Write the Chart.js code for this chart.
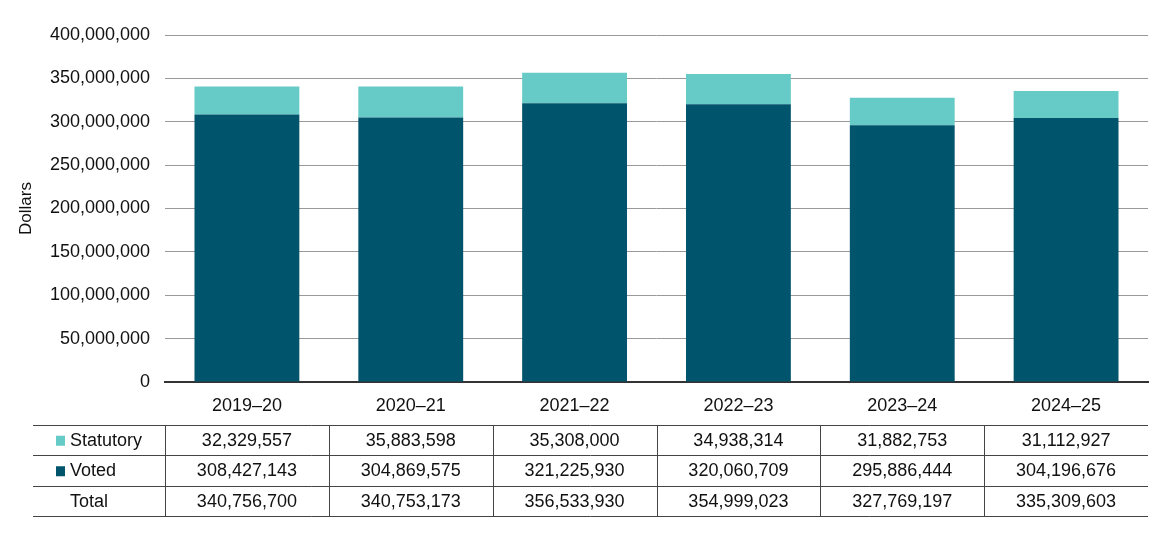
<!DOCTYPE html>
<html>
<head>
<meta charset="utf-8">
<script src="https://cdn.jsdelivr.net/npm/chart.js@4"></script>
<style>
  html, body { margin: 0; padding: 0; background: #fff; }
  #wrap { width: 1170px; height: 535px; }
</style>
</head>
<body>
<div id="wrap"><canvas id="spendChart" width="1170" height="535"></canvas></div>
<script>
// fiscal years, values in dollars
const years = ['2019–20', '2020–21', '2021–22', '2022–23', '2023–24', '2024–25'];
const statutory = [32329557, 35883598, 35308000, 34938314, 31882753, 31112927];
const voted = [308427143, 304869575, 321225930, 320060709, 295886444, 304196676];
const totals = [340756700, 340753173, 356533930, 354999023, 327769197, 335309603];
const yTicks = [0, 50000000, 100000000, 150000000, 200000000, 250000000, 300000000, 350000000, 400000000];

const FONT = '"Liberation Sans Narrow", "Arial Narrow", "Liberation Sans", sans-serif';
const TEAL = '#66cbc7';
const DARK = '#00546c';

const fmt = (n) => n.toLocaleString('en-US');

// data table under the x axis, columns follow the category scale
const tablePlugin = {
  id: 'dataTable',
  afterDraw(chart) {
    const ctx = chart.ctx;
    const x = chart.scales.x;
    const area = chart.chartArea;
    const step = x.getPixelForValue(1) - x.getPixelForValue(0);
    const rowTop = 424.5, rowH = 30.5, tableLeft = 33;
    const rows = [
      { label: 'Statutory', color: TEAL, vals: statutory },
      { label: 'Voted', color: DARK, vals: voted },
      { label: 'Total', color: null, vals: totals }
    ];

    ctx.save();
    ctx.strokeStyle = '#444';
    ctx.lineWidth = 1;
    // horizontal rules
    for (let i = 0; i <= rows.length; i++) {
      const y = Math.round(rowTop + i * rowH) + 0.5;
      ctx.beginPath();
      ctx.moveTo(tableLeft, y);
      ctx.lineTo(area.right, y);
      ctx.stroke();
    }
    // vertical rules between columns
    for (let i = 0; i < years.length; i++) {
      const xx = Math.round(x.getPixelForValue(i) - step / 2) + 0.5;
      ctx.beginPath();
      ctx.moveTo(xx, Math.round(rowTop) + 0.5);
      ctx.lineTo(xx, Math.round(rowTop + rows.length * rowH) + 0.5);
      ctx.stroke();
    }

    ctx.font = '18px ' + FONT;
    ctx.fillStyle = '#111';
    ctx.textBaseline = 'middle';
    rows.forEach((r, ri) => {
      const cy = rowTop + ri * rowH + rowH / 2 + 1;
      if (r.color) {
        ctx.fillStyle = r.color;
        ctx.fillRect(56, cy - 5, 9, 10);
      }
      ctx.fillStyle = '#111';
      ctx.textAlign = 'left';
      ctx.fillText(r.label, 70, cy);
      ctx.textAlign = 'center';
      r.vals.forEach((v, ci) => {
        ctx.fillText(fmt(v), x.getPixelForValue(ci), cy);
      });
    });
    ctx.restore();
  }
};

new Chart(document.getElementById('spendChart'), {
  type: 'bar',
  data: {
    labels: years,
    datasets: [
      { label: 'Voted', data: voted, backgroundColor: DARK },
      { label: 'Statutory', data: statutory, backgroundColor: TEAL }
    ]
  },
  options: {
    responsive: false,
    animation: false,
    devicePixelRatio: 1,
    layout: { padding: { left: 0, right: 22, top: 35, bottom: 0 } },
    datasets: { bar: { categoryPercentage: 1, barPercentage: 0.64 } },
    plugins: {
      legend: { display: false },
      tooltip: { enabled: false }
    },
    scales: {
      x: {
        stacked: true,
        grid: { display: false, drawTicks: false },
        border: { display: true, color: '#333', width: 2 },
        ticks: { color: '#111', padding: 13, font: { family: FONT, size: 18 } },
        afterFit: (s) => { s.height = 153; }
      },
      y: {
        stacked: true,
        min: 0,
        max: 400000000,
        afterBuildTicks: (s) => { s.ticks = yTicks.map(v => ({ value: v })); },
        grid: { color: '#999', drawTicks: false },
        border: { display: false },
        ticks: {
          color: '#111',
          padding: 15,
          font: { family: FONT, size: 18 },
          callback: (v) => fmt(v)
        },
        title: {
          display: true,
          text: 'Dollars',
          color: '#111',
          padding: { top: 16, bottom: 0 },
          font: { family: FONT, size: 17 }
        },
        afterFit: (s) => { s.width = 165; }
      }
    }
  },
  plugins: [tablePlugin]
});
</script>
</body>
</html>
